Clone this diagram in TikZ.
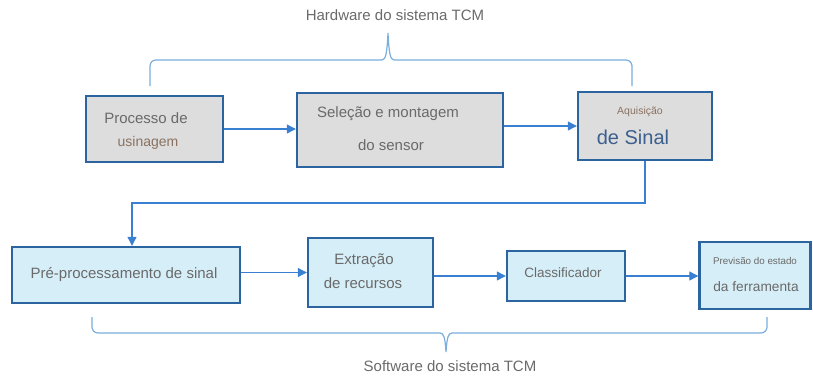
\documentclass[tikz,border=0pt]{standalone}
\usepackage{fontspec}
\setmainfont{Liberation Sans}
\usetikzlibrary{arrows.meta}
\definecolor{boxblue}{HTML}{2C64A0}
\definecolor{linkblue}{HTML}{3A80D2}
\definecolor{bracecol}{HTML}{7AAEDD}
\definecolor{greyfill}{HTML}{DDDDDD}
\definecolor{cyanfill}{HTML}{D6EEF7}
\definecolor{txt}{HTML}{6A6A6A}
\definecolor{brown}{HTML}{8A7262}
\definecolor{sinal}{HTML}{3C5F8E}
\tikzset{
  x=1pt, y=-1pt,
  box/.style={draw=boxblue, line width=2.4pt, inner sep=0pt},
  topbox/.style={box, fill=greyfill},
  botbox/.style={box, fill=cyanfill},
  lbl/.style={text=txt, inner sep=0pt, font=\fontsize{15}{18}\selectfont},
  link/.style={draw=linkblue, line width=1.1pt, -{Triangle[length=9pt,width=9pt]}},
  brace/.style={draw=bracecol, line width=1.2pt},
}
\begin{document}
\begin{tikzpicture}
\useasboundingbox (0,0) rectangle (813,381);
% top row
\node[topbox, minimum width=137pt, minimum height=66pt] (b1) at (154.5,129) {};
\node[topbox, minimum width=206pt, minimum height=74pt] (b2) at (400,130) {};
\node[topbox, minimum width=134pt, minimum height=68pt] (b3) at (645,126) {};
% bottom row
\node[botbox, minimum width=228pt, minimum height=56pt] (b4) at (126,275) {};
\node[botbox, minimum width=125pt, minimum height=69pt] (b5) at (370.5,272.5) {};
\node[botbox, minimum width=118pt, minimum height=50pt] (b6) at (566,276) {};
\node[botbox, minimum width=111pt, minimum height=67pt] (b7) at (755,275.5) {};
% texts
\node[lbl] (t1a) at (146,118) {Processo de};
\node[lbl, text=brown, font=\fontsize{14}{16}\selectfont] (t1b) at (148,143) {usinagem};
\node[lbl] (t2a) at (388,114) {Seleção e montagem};
\node[lbl] (t2b) at (391,145) {do sensor};
\node[lbl, text=brown, font=\fontsize{10.5}{12}\selectfont] (t3a) at (640,112) {Aquisição};
\node[lbl, text=sinal, font=\fontsize{20}{24}\selectfont] (t3b) at (633,137) {de Sinal};
\node[lbl] (t4) at (124,275) {Pré-processamento de sinal};
\node[lbl] (t5a) at (364,261) {Extração};
\node[lbl] (t5b) at (363,283) {de recursos};
\node[lbl, font=\fontsize{13.5}{16}\selectfont] (t6) at (563,273) {Classificador};
\node[lbl, font=\fontsize{9.8}{12}\selectfont] (t7a) at (755,261) {Previsão do estado};
\node[lbl, font=\fontsize{13.7}{16}\selectfont] (t7b) at (756,287) {da ferramenta};
\node[lbl] (hw) at (395,15) {Hardware do sistema TCM};
\node[lbl] (sw) at (450,366) {Software do sistema TCM};
% connectors
\coordinate (c1) at (132,203);
\draw[link] (b1.east) -- (b2.west |- b1.east);
\draw[link] (b2.east |- b3.west) -- (b3.west);
\draw[link] (b3.south) |- (c1) -- (c1 |- b4.north);
\draw[link] (b4.east |- b5.west) -- (b5.west);
\draw[link] (b5.east |- b6.west) -- (b6.west);
\draw[link] (b6.east) -- (b7.west |- b6.east);
% braces
\draw[brace, rounded corners=6pt] (150,86) -- (150,60) -- (382,60);
\draw[brace] (382,60) .. controls (386,60) and (387,52) .. (388,33) .. controls (389,52) and (390,60) .. (394,60);
\draw[brace, rounded corners=6pt] (394,60) -- (632,60) -- (632,86);
\draw[brace, rounded corners=6pt] (92,317) -- (92,333) -- (440,333);
\draw[brace] (440,333) .. controls (444,333) and (445,338) .. (446,352) .. controls (447,338) and (448,333) .. (452,333);
\draw[brace, rounded corners=6pt] (452,333) -- (767,333) -- (767,317);
\end{tikzpicture}
\end{document}
